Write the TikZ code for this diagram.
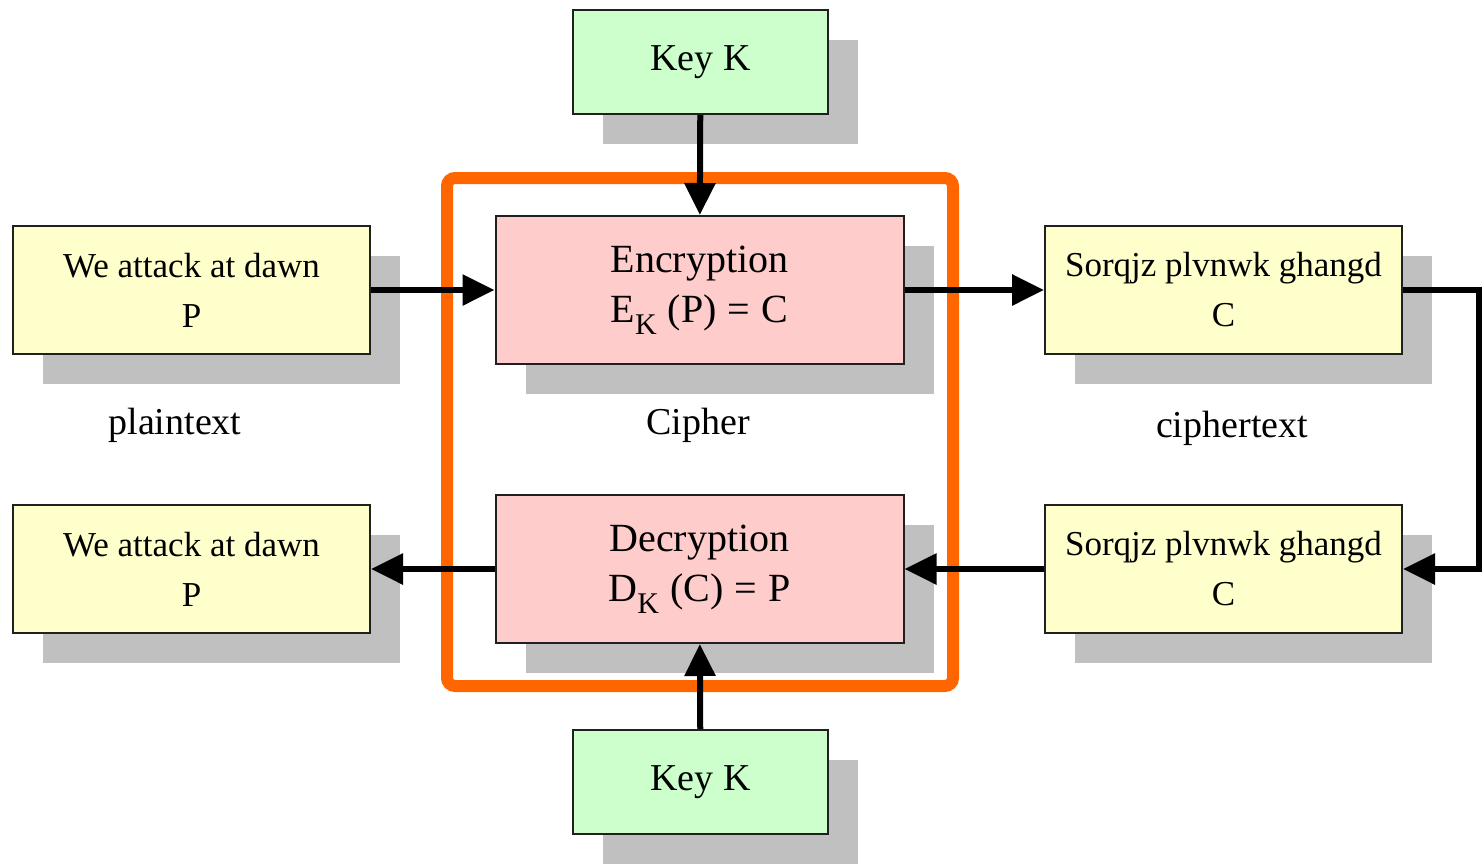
\documentclass[tikz,border=0pt]{standalone}
\usepackage{fontspec}
\setmainfont{Liberation Serif}
\usetikzlibrary{arrows.meta,shadows}
\definecolor{keygreen}{HTML}{CCFFCC}
\definecolor{cipherpink}{HTML}{FFCCCC}
\definecolor{textyellow}{HTML}{FFFFCC}
\definecolor{shgray}{HTML}{C0C0C0}
\definecolor{frameorange}{HTML}{FF6600}
\definecolor{edgegray}{HTML}{202020}
\tikzset{
  box/.style={draw=edgegray, line width=2pt, align=center, inner sep=0pt,
    drop shadow={shadow xshift=30pt, shadow yshift=-30pt, fill=shgray, opacity=1}},
  keybox/.style={box, fill=keygreen, minimum width=255pt, minimum height=104pt,
    font=\fontsize{38}{50}\selectfont},
  msgbox/.style={box, fill=textyellow, minimum width=357pt, minimum height=128pt,
    font=\fontsize{35}{50}\selectfont},
  cipherbox/.style={box, fill=cipherpink, minimum width=408pt, minimum height=148pt,
    font=\fontsize{40}{50}\selectfont},
  caption/.style={font=\fontsize{38}{44}\selectfont, inner sep=0pt},
  conn/.style={line width=6pt, black, -{Triangle[length=32pt,width=30pt]}},
}
\newcommand{\subK}{\raisebox{-0.3em}{\fontsize{30}{30}\selectfont K}}
\begin{document}
\begin{tikzpicture}[x=1pt,y=-1pt]
\useasboundingbox (0,0) rectangle (1484,863);
% cipher frame
\draw[frameorange, line width=12pt, rounded corners=8pt] (447,178) rectangle (953,686);
% nodes
\node[keybox] (keyT) at (700.5,62) {Key K};
\node[msgbox] (pt1) at (191.5,290) {We attack at dawn\\P};
\node[cipherbox] (enc) at (699.5,290) {Encryption\\E\subK\;(P)\;=\;C};
\node[msgbox] (ct1) at (1223.5,290) {Sorqjz plvnwk ghangd\\C};
\node[msgbox] (pt2) at (191.5,569) {We attack at dawn\\P};
\node[cipherbox] (dec) at (699.5,569) {Decryption\\D\subK\;(C)\;=\;P};
\node[msgbox] (ct2) at (1223.5,569) {Sorqjz plvnwk ghangd\\C};
\node[keybox] (keyB) at (700.5,782) {Key K};
% captions
\node[caption] (lp) at (175,425) {plaintext};
\node[caption] (lc) at (698,425) {Cipher};
\node[caption] (lct) at (1232,428) {ciphertext};
% connectors
\draw[conn] (keyT) -- (enc);
\draw[conn] (pt1.east) -- (enc.west);
\draw[conn] (enc.east) -- (ct1.west);
\coordinate (loop) at (1479,290);
\draw[conn] (ct1.east) -- (loop) |- (ct2.east);
\draw[conn] (ct2.west) -- (dec.east);
\draw[conn] (dec.west) -- (pt2.east);
\draw[conn] (keyB) -- (dec);
\end{tikzpicture}
\end{document}
